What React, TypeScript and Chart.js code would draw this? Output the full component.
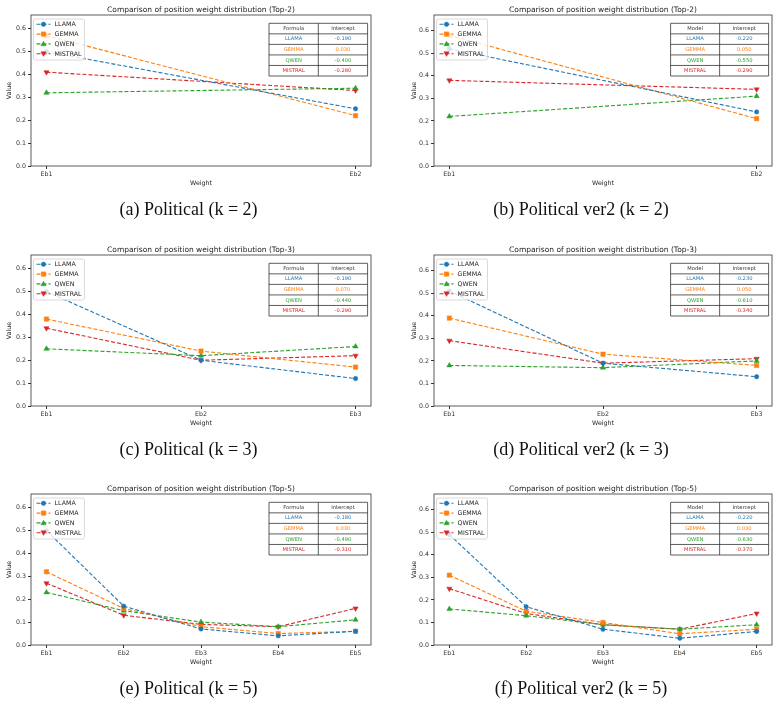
import React, { useEffect, useRef } from "react";
import { Chart, registerables } from "chart.js";

Chart.register(...registerables);

// ---------- data ----------
const SERIES = ["LLAMA", "GEMMA", "QWEN", "MISTRAL"];
const COLORS = ["#1f77b4", "#ff7f0e", "#2ca02c", "#d62728"];

const CATS_2 = ["Eb1", "Eb2"];
const CATS_3 = ["Eb1", "Eb2", "Eb3"];
const CATS_5 = ["Eb1", "Eb2", "Eb3", "Eb4", "Eb5"];

const Y_TICKS = [0, 0.1, 0.2, 0.3, 0.4, 0.5, 0.6];

// rows: LLAMA, GEMMA, QWEN, MISTRAL
const VALUES_A = [
  [0.5, 0.25],
  [0.57, 0.22],
  [0.32, 0.34],
  [0.41, 0.33],
];
const VALUES_B = [
  [0.52, 0.24],
  [0.58, 0.21],
  [0.22, 0.31],
  [0.38, 0.34],
];
const VALUES_C = [
  [0.5, 0.2, 0.12],
  [0.38, 0.24, 0.17],
  [0.25, 0.22, 0.26],
  [0.34, 0.2, 0.22],
];
const VALUES_D = [
  [0.51, 0.19, 0.13],
  [0.39, 0.23, 0.18],
  [0.18, 0.17, 0.2],
  [0.29, 0.19, 0.21],
];
const VALUES_E = [
  [0.5, 0.17, 0.07, 0.04, 0.06],
  [0.32, 0.16, 0.08, 0.05, 0.06],
  [0.23, 0.15, 0.1, 0.08, 0.11],
  [0.27, 0.13, 0.09, 0.08, 0.16],
];
const VALUES_F = [
  [0.49, 0.17, 0.07, 0.03, 0.06],
  [0.31, 0.15, 0.1, 0.05, 0.07],
  [0.16, 0.13, 0.09, 0.07, 0.09],
  [0.25, 0.14, 0.09, 0.07, 0.14],
];

const INTERCEPTS_A = ["-0.190", "0.030", "-0.400", "-0.280"];
const INTERCEPTS_B = ["-0.220", "0.050", "-0.550", "-0.290"];
const INTERCEPTS_C = ["-0.190", "0.070", "-0.440", "-0.290"];
const INTERCEPTS_D = ["-0.230", "0.050", "-0.610", "-0.340"];
const INTERCEPTS_E = ["-0.180", "0.030", "-0.490", "-0.310"];
const INTERCEPTS_F = ["-0.220", "0.030", "-0.630", "-0.370"];

const TITLES = [
  "Comparison of position weight distribution (Top-2)",
  "Comparison of position weight distribution (Top-3)",
  "Comparison of position weight distribution (Top-5)",
];
const CAPTIONS = [
  "(a) Political (k = 2)",
  "(b) Political ver2 (k = 2)",
  "(c) Political (k = 3)",
  "(d) Political ver2 (k = 3)",
  "(e) Political (k = 5)",
  "(f) Political ver2 (k = 5)",
];
const TABLE_HEAD_LEFT = ["Formula", "Model"];
const TABLE_HEAD_RIGHT = "Intercept";
const X_TITLE = "Weight";
const Y_TITLE = "Value";
const Y_MAX_LEFT = 0.66;
const Y_MAX_RIGHT = 0.67;

// ---------- drawing helpers ----------
const SANS = "'DejaVu Sans', sans-serif";
const W = 391;
const H = 200;

function drawMarker(ctx: CanvasRenderingContext2D, kind: number, x: number, y: number, color: string) {
  ctx.save();
  ctx.fillStyle = color;
  ctx.strokeStyle = color;
  ctx.lineWidth = 0.5;
  ctx.setLineDash([]);
  ctx.beginPath();
  if (kind === 0) {
    ctx.arc(x, y, 2.2, 0, Math.PI * 2);
  } else if (kind === 1) {
    ctx.rect(x - 2.2, y - 2.2, 4.4, 4.4);
  } else if (kind === 2) {
    ctx.moveTo(x, y - 2.7);
    ctx.lineTo(x + 2.6, y + 1.9);
    ctx.lineTo(x - 2.6, y + 1.9);
    ctx.closePath();
  } else {
    ctx.moveTo(x, y + 2.7);
    ctx.lineTo(x + 2.6, y - 1.9);
    ctx.lineTo(x - 2.6, y - 1.9);
    ctx.closePath();
  }
  ctx.fill();
  ctx.stroke();
  ctx.restore();
}

function makeOverlay(headLeft: string, intercepts: string[]) {
  return {
    id: "overlay",
    afterDatasetsDraw(chart: any) {
      const ctx: CanvasRenderingContext2D = chart.ctx;
      const ca = chart.chartArea;
      const w = ca.right - ca.left;
      const h = ca.bottom - ca.top;
      ctx.save();
      // frame
      ctx.strokeStyle = "#333";
      ctx.lineWidth = 0.8;
      ctx.setLineDash([]);
      ctx.strokeRect(ca.left, ca.top, w, h);

      // legend
      const bl = ca.left + 2.5;
      const bt = ca.top + 4;
      const bw = 51;
      const bh = 41;
      ctx.beginPath();
      (ctx as any).roundRect(bl, bt, bw, bh, 2);
      ctx.fillStyle = "rgba(255,255,255,0.8)";
      ctx.fill();
      ctx.strokeStyle = "#d0d0d0";
      ctx.lineWidth = 0.8;
      ctx.stroke();
      ctx.font = `6.3px ${SANS}`;
      ctx.textBaseline = "middle";
      ctx.textAlign = "left";
      SERIES.forEach((name, i) => {
        const y = bt + 5.3 + i * 9.8;
        ctx.strokeStyle = COLORS[i];
        ctx.lineWidth = 1.1;
        ctx.setLineDash([4, 2]);
        ctx.beginPath();
        ctx.moveTo(bl + 3, y);
        ctx.lineTo(bl + 17, y);
        ctx.stroke();
        ctx.setLineDash([]);
        drawMarker(ctx, i, bl + 10, y, COLORS[i]);
        ctx.fillStyle = "#222";
        ctx.fillText(name, bl + 21, y + 0.3);
      });

      // table
      const x0 = ca.left + 0.7 * w;
      const x1 = ca.left + 0.99 * w;
      const xm = (x0 + x1) / 2;
      const y0 = ca.top + 0.055 * h;
      const y1 = ca.top + 0.404 * h;
      const rh = (y1 - y0) / 5;
      ctx.fillStyle = "#fff";
      ctx.fillRect(x0, y0, x1 - x0, y1 - y0);
      ctx.strokeStyle = "#333";
      ctx.lineWidth = 0.8;
      for (let r = 0; r <= 5; r++) {
        ctx.beginPath();
        ctx.moveTo(x0, y0 + r * rh);
        ctx.lineTo(x1, y0 + r * rh);
        ctx.stroke();
      }
      [x0, xm, x1].forEach((x) => {
        ctx.beginPath();
        ctx.moveTo(x, y0);
        ctx.lineTo(x, y1);
        ctx.stroke();
      });
      ctx.font = `5.2px ${SANS}`;
      ctx.textAlign = "center";
      ctx.textBaseline = "middle";
      ctx.fillStyle = "#333";
      ctx.fillText(headLeft, (x0 + xm) / 2, y0 + rh / 2);
      ctx.fillText(TABLE_HEAD_RIGHT, (xm + x1) / 2, y0 + rh / 2);
      SERIES.forEach((name, i) => {
        const y = y0 + rh * (i + 1.5);
        ctx.fillStyle = COLORS[i];
        ctx.fillText(name, (x0 + xm) / 2, y);
        ctx.fillText(intercepts[i], (xm + x1) / 2, y);
      });
      ctx.restore();
    },
  };
}

type PanelCfg = {
  cats: string[];
  values: number[][];
  intercepts: string[];
  title: string;
  right: boolean;
};

function Panel({ cfg }: { cfg: PanelCfg }) {
  const ref = useRef<HTMLCanvasElement>(null);
  useEffect(() => {
    if (!ref.current) return;
    const axLeft = cfg.right ? 43 : 31;
    const axRight = cfg.right ? 381 : 371;
    const axBottom = 166;
    const n = cfg.cats.length;
    const yMax = cfg.right ? Y_MAX_RIGHT : Y_MAX_LEFT;
    const tickFont = { family: SANS, size: 6.3 };
    const chart = new Chart(ref.current, {
      type: "line",
      data: {
        datasets: SERIES.map((name, si) => ({
          label: name,
          data: cfg.values[si].map((v, i) => ({ x: i, y: v })),
          borderColor: COLORS[si],
          backgroundColor: COLORS[si],
          borderWidth: 1.1,
          borderDash: [4, 2],
          pointStyle: si === 0 ? "circle" : si === 1 ? "rect" : "triangle",
          pointRotation: si === 3 ? 180 : 0,
          pointRadius: si === 0 ? 2.2 : si === 1 ? 3.1 : 3.0,
          pointBorderWidth: 0.5,
          pointBorderColor: COLORS[si],
          tension: 0,
          fill: false,
        })),
      },
      options: {
        responsive: false,
        animation: false,
        devicePixelRatio: 1,
        layout: { padding: { left: 0, right: W - axRight, top: 0, bottom: 0 } },
        plugins: {
          legend: { display: false },
          tooltip: { enabled: false },
          title: {
            display: true,
            text: cfg.title,
            fullSize: false,
            color: "#222",
            font: { family: SANS, size: 7.5, weight: "normal" as any },
            padding: { top: 5.5, bottom: 0.5 },
          },
        },
        scales: {
          x: {
            type: "linear",
            min: -0.05 * (n - 1),
            max: 1.05 * (n - 1),
            afterBuildTicks: (s: any) => {
              s.ticks = cfg.cats.map((_, i) => ({ value: i }));
            },
            afterFit: (s: any) => {
              s.height = H - axBottom;
            },
            ticks: {
              autoSkip: false,
              maxRotation: 0,
              color: "#333",
              font: tickFont,
              padding: 2,
              callback: (v: any) => cfg.cats[Math.round(v)] ?? "",
            },
            grid: { drawOnChartArea: false, tickLength: 3, color: "#333", tickColor: "#333" },
            border: { display: false },
            title: {
              display: true,
              text: X_TITLE,
              color: "#222",
              font: tickFont,
              padding: { top: 0, bottom: 13.2 },
            },
          },
          y: {
            min: 0,
            max: yMax,
            afterBuildTicks: (s: any) => {
              s.ticks = Y_TICKS.map((v) => ({ value: v }));
            },
            afterFit: (s: any) => {
              s.width = axLeft;
            },
            ticks: {
              autoSkip: false,
              color: "#333",
              font: tickFont,
              padding: 2,
              callback: (v: any) => Number(v).toFixed(1),
            },
            grid: { drawOnChartArea: false, tickLength: 3, color: "#333", tickColor: "#333" },
            border: { display: false },
            title: {
              display: true,
              text: Y_TITLE,
              color: "#222",
              font: tickFont,
              padding: { top: cfg.right ? 19.2 : 5.7, bottom: 0 },
            },
          },
        },
      },
      plugins: [makeOverlay(cfg.right ? TABLE_HEAD_LEFT[1] : TABLE_HEAD_LEFT[0], cfg.intercepts)],
    } as any);
    return () => chart.destroy();
  }, [cfg]);
  return <canvas ref={ref} width={W} height={H} style={{ width: W, height: H, display: "block" }} />;
}

const PANELS: PanelCfg[] = [
  { cats: CATS_2, values: VALUES_A, intercepts: INTERCEPTS_A, title: TITLES[0], right: false },
  { cats: CATS_2, values: VALUES_B, intercepts: INTERCEPTS_B, title: TITLES[0], right: true },
  { cats: CATS_3, values: VALUES_C, intercepts: INTERCEPTS_C, title: TITLES[1], right: false },
  { cats: CATS_3, values: VALUES_D, intercepts: INTERCEPTS_D, title: TITLES[1], right: true },
  { cats: CATS_5, values: VALUES_E, intercepts: INTERCEPTS_E, title: TITLES[2], right: false },
  { cats: CATS_5, values: VALUES_F, intercepts: INTERCEPTS_F, title: TITLES[2], right: true },
];

const ROW_TOPS = [0, 240, 479];
const CAPTION_CENTERS = [188.5, 581];

export default function App() {
  return (
    <div style={{ position: "absolute", left: 0, top: 0, width: 782, height: 705, background: "#fff" }}>
      {PANELS.map((p, i) => {
        const row = Math.floor(i / 2);
        const col = i % 2;
        return (
          <React.Fragment key={i}>
            <div style={{ position: "absolute", left: col * 391, top: ROW_TOPS[row] }}>
              <Panel cfg={p} />
            </div>
            <div
              style={{
                position: "absolute",
                left: CAPTION_CENTERS[col] - 150,
                width: 300,
                top: ROW_TOPS[row] + 199,
                textAlign: "center",
                fontFamily: "'Liberation Serif', serif",
                fontSize: 18,
                lineHeight: "21px",
                color: "#111",
                whiteSpace: "nowrap",
              }}
            >
              {CAPTIONS[i]}
            </div>
          </React.Fragment>
        );
      })}
    </div>
  );
}
